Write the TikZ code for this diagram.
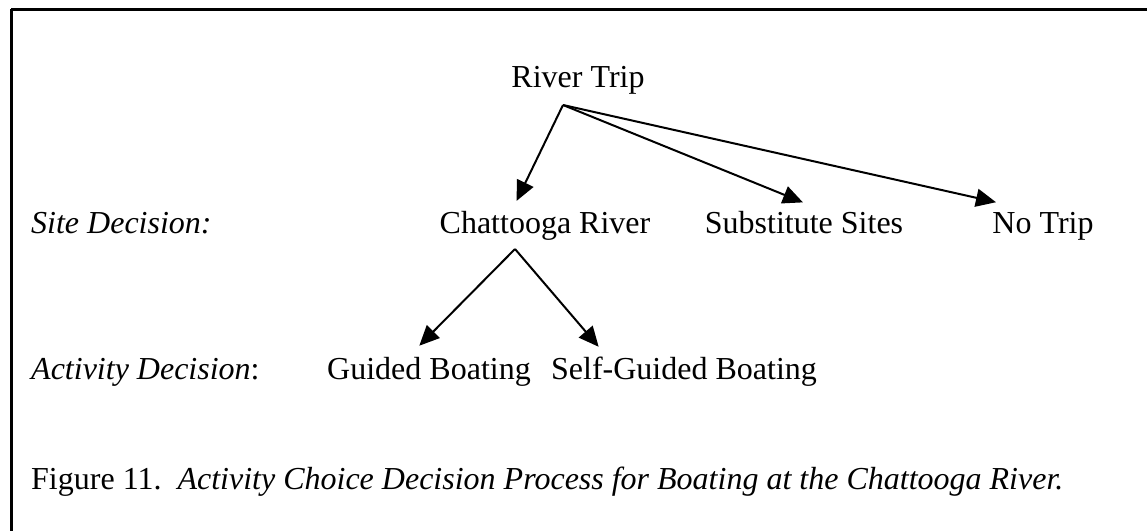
\documentclass[tikz,border=0pt]{standalone}
\usepackage{fontspec}
\setmainfont{Liberation Serif}
\usetikzlibrary{arrows.meta,calc}
\tikzset{
  lbl/.style={anchor=base, inner sep=0pt, font=\fontsize{32}{38}\selectfont},
  lblw/.style={anchor=base west, inner sep=0pt, font=\fontsize{32}{38}\selectfont},
  conn/.style={line width=2pt, -{Triangle[length=20pt,width=18pt]}, shorten >=-1pt},
  frame/.style={line width=2.6pt}
}
\begin{document}
\begin{tikzpicture}[x=1pt,y=-1pt]
\useasboundingbox (0,0) rectangle (1147,531);
\draw[frame] (11,9.5) -- (1147,9.5);
\draw[frame] (11.5,9) -- (11.5,531);
\node[lbl] (rt) at (578,87) {River Trip};
\node[lblw] (site) at (31,233) {\itshape Site Decision:};
\node[lbl] (cr) at (545,233) {Chattooga River};
\node[lbl] (ss) at (804,233) {Substitute Sites};
\node[lbl] (nt) at (1043,233) {No Trip};
\node[lblw] (act) at (31,379) {\textit{Activity Decision}:};
\node[lbl] (gb) at (429,379) {Guided Boating};
\node[lbl] (sg) at (684,379) {Self-Guided Boating};
\node[lblw] (cap) at (31,489) {Figure 11.\ \ \textit{Activity Choice Decision Process for Boating at the Chattooga River.}};
\coordinate (rto) at ($(rt.base)+(-15,18)$);
\coordinate (cro) at ($(cr.base)+(-30,16)$);
\draw[conn] (rto) -- ($(cr.base)+(-28,-33)$);
\draw[conn] (rto) -- ($(ss.base)+(-2,-31)$);
\draw[conn] (rto) -- ($(nt.base)+(-48,-31)$);
\draw[conn] (cro) -- ($(gb.base)+(-9,-34)$);
\draw[conn] (cro) -- ($(sg.base)+(-86,-33)$);
\end{tikzpicture}
\end{document}
